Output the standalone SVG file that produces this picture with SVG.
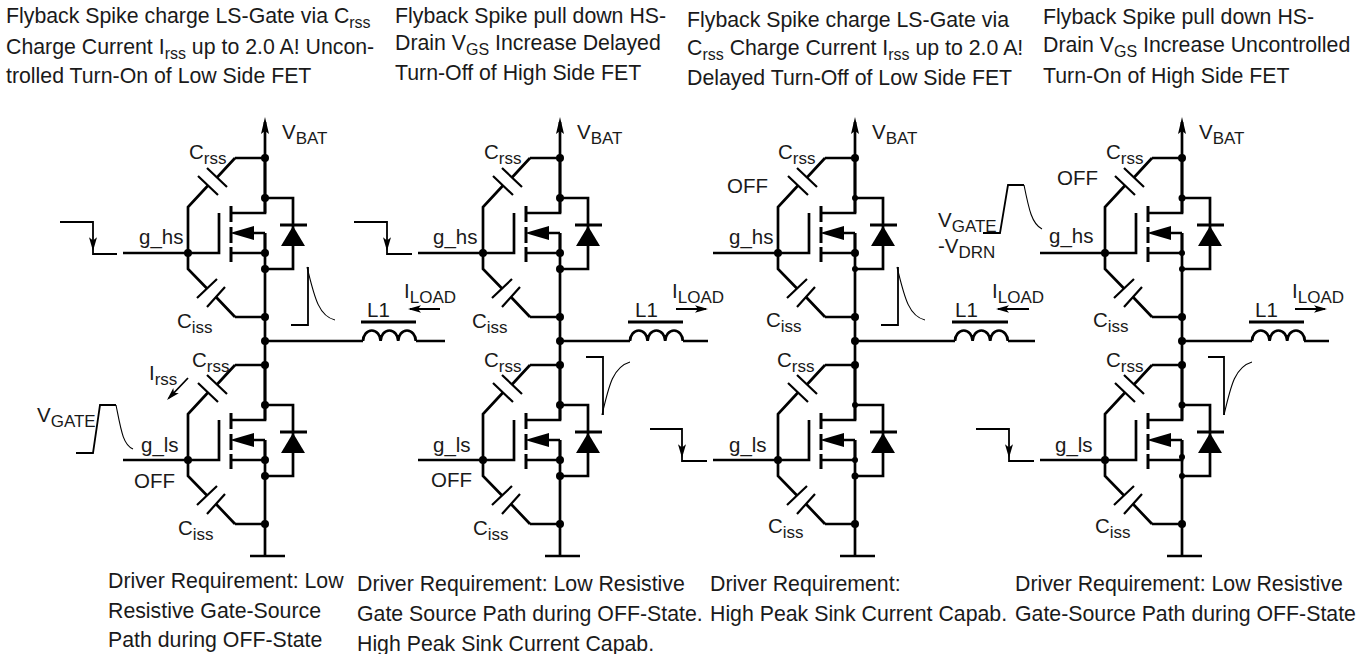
<svg xmlns="http://www.w3.org/2000/svg" width="1364" height="654" viewBox="0 0 1364 654">
<style>
text{font-family:"Liberation Sans",Arial,sans-serif;fill:#1a1a1a}
.t{font-size:21.300px}
.l{font-size:20.500px}
.w{fill:none;stroke:#000;stroke-width:2.7}
.p{fill:none;stroke:#000;stroke-width:2.2}
.c{fill:none;stroke:#000;stroke-width:3}
.s{fill:none;stroke:#000;stroke-width:1.8}
.f{fill:none;stroke:#000;stroke-width:1.1}
.d{fill:#000;stroke:none}
.k{font-size:17px}
.u{font-size:16px}
</style>
<defs>
<g id="cell">
<path class="w" d="M0 0V55H-33M0 75V95H-33M-11 75H0M0 40H28V111H0M-30 0H0M-30 159H0"/>
<path class="w" d="M-30 0L-48 19.500M-57 27.500L-77 49V111L-58 130.500M-49 139L-30 159M-142 95H-46V55"/>
<path class="p" d="M-67 18L-47 37M-58 10L-38 29M-68 140L-48 121M-58 149L-40 129"/>
<path class="c" d="M-34 48V64M-34 69V85M-34 89V104M15 67H42"/>
<polygon class="d" points="-35,75 -11,68 -11,82"/>
<polygon class="d" points="28,68 40,88 16,88"/>
<circle class="d" cx="0" cy="0" r="4"/>
<circle class="d" cx="0" cy="159" r="4"/>
<circle class="d" cx="-77" cy="95" r="4"/>
</g>
<path id="coil" class="w" d="M0 0a8.800 10.500 0 0 1 17.600 0a8.800 10.500 0 0 1 17.600 0a8.800 10.500 0 0 1 17.600 0"/>
<polygon id="ah" class="d" points="0,0 -13,-3.800 -10,0 -13,3.800"/>
</defs>

<g id="connectors">
<path class="w" d="M265 122V213M265 233V420M265 440V556M250 556H285M265 341H363M416 341H445"/>
<path class="w" d="M560 122V213M560 233V420M560 440V556M545 556H580M560 341H630M683 341H708"/>
<path class="w" d="M855 122V213M855 233V420M855 440V556M840 556H875M855 341H955M1008 341H1035"/>
<path class="w" d="M1182 122V213M1182 233V420M1182 440V556M1167 556H1202M1182 341H1252M1304 341H1329"/>
<polygon class="d" points="265,117 269,134 265,131 261,134"/>
<polygon class="d" points="560,117 564,134 560,131 556,134"/>
<polygon class="d" points="855,117 859,134 855,131 851,134"/>
<polygon class="d" points="1182,117 1186,134 1182,131 1178,134"/>
<path class="s" d="M60 222H93V254H117M354 222H387V254H412M650 429H682V461H707M976 429H1009V461H1034"/>
<use href="#ah" transform="translate(93 251) rotate(90) scale(1.050)"/>
<use href="#ah" transform="translate(387 251) rotate(90) scale(1.050)"/>
<use href="#ah" transform="translate(682 458) rotate(90) scale(1.050)"/>
<use href="#ah" transform="translate(1009 458) rotate(90) scale(1.050)"/>
<path class="s" d="M440 309H410M676 309H706M1029 309H998M1295 309H1325M188 378L169 398"/>
<use href="#ah" transform="translate(408 309) rotate(180)"/>
<use href="#ah" transform="translate(708 309)"/>
<use href="#ah" transform="translate(996 309) rotate(180)"/>
<use href="#ah" transform="translate(1327 309)"/>
<use href="#ah" transform="translate(167 400) rotate(134)"/>
</g>

<g id="q-hs-1"><use href="#cell" transform="translate(265 158)"/>
<circle class="d" cx="265" cy="198" r="4"/><circle class="d" cx="265" cy="253" r="4"/><circle class="d" cx="265" cy="269" r="4"/><circle class="d" cx="265" cy="341" r="4"/></g>
<g id="q-ls-1"><use href="#cell" transform="translate(265 365)"/>
<circle class="d" cx="265" cy="405" r="4"/><circle class="d" cx="265" cy="460" r="4"/><circle class="d" cx="265" cy="476" r="4"/></g>
<g id="q-hs-2"><use href="#cell" transform="translate(560 158)"/>
<circle class="d" cx="560" cy="198" r="4"/><circle class="d" cx="560" cy="253" r="4"/><circle class="d" cx="560" cy="269" r="4"/><circle class="d" cx="560" cy="341" r="4"/></g>
<g id="q-ls-2"><use href="#cell" transform="translate(560 365)"/>
<circle class="d" cx="560" cy="405" r="4"/><circle class="d" cx="560" cy="460" r="4"/><circle class="d" cx="560" cy="476" r="4"/></g>
<g id="q-hs-3"><use href="#cell" transform="translate(855 158)"/>
<circle class="d" cx="855" cy="198" r="3"/><circle class="d" cx="855" cy="253" r="4"/><circle class="d" cx="855" cy="269" r="3"/><circle class="d" cx="855" cy="341" r="4"/></g>
<g id="q-ls-3"><use href="#cell" transform="translate(855 365)"/>
<circle class="d" cx="855" cy="405" r="3"/><circle class="d" cx="855" cy="460" r="3"/><circle class="d" cx="855" cy="476" r="3.500"/></g>
<g id="q-hs-4"><use href="#cell" transform="translate(1182 158)"/>
<circle class="d" cx="1182" cy="198" r="3.500"/><circle class="d" cx="1182" cy="253" r="3"/><circle class="d" cx="1182" cy="269" r="3"/><circle class="d" cx="1182" cy="341" r="4"/></g>
<g id="q-ls-4"><use href="#cell" transform="translate(1182 365)"/>
<circle class="d" cx="1182" cy="405" r="3.500"/><circle class="d" cx="1182" cy="457" r="3"/><circle class="d" cx="1182" cy="476" r="3"/></g>

<g id="l1-1"><use href="#coil" x="363" y="341"/><path class="c" d="M361 322H416"/><text class="l" x="367" y="317">L1</text></g>
<g id="l1-2"><use href="#coil" x="630" y="341"/><path class="c" d="M628 322H683"/><text class="l" x="635" y="317">L1</text></g>
<g id="l1-3"><use href="#coil" x="955" y="341"/><path class="c" d="M952 322H1008"/><text class="l" x="955" y="317">L1</text></g>
<g id="l1-4"><use href="#coil" x="1252" y="341"/><path class="c" d="M1249 322H1304"/><text class="l" x="1255" y="317">L1</text></g>

<g id="waves">
<path class="s" d="M291 325H308V267"/><path class="f" d="M307 267C314 295 318 316 335 320"/>
<path class="s" d="M881 325H898V267"/><path class="f" d="M897 267C904 295 908 316 925 320"/>
<path class="s" d="M586 357H603V415"/><path class="f" d="M602 415C609 385 613 367 630 362"/>
<path class="s" d="M1208 357H1224V415"/><path class="f" d="M1224 415C1231 385 1235 367 1252 362"/>
<path class="s" d="M76 453H93L100 405H116"/><path class="f" d="M116 405C121 430 123 445 133 449"/>
<path class="s" d="M983 233H1000L1008 185H1024"/><path class="f" d="M1024 185C1029 210 1032 224 1042 229"/>
</g>

<g id="labels">
<text class="l" x="282" y="139">V<tspan class="k" dy="5">BAT</tspan></text>
<text class="l" x="577" y="139">V<tspan class="k" dy="5">BAT</tspan></text>
<text class="l" x="872" y="139">V<tspan class="k" dy="5">BAT</tspan></text>
<text class="l" x="1199" y="139">V<tspan class="k" dy="5">BAT</tspan></text>

<text class="l" x="189" y="159">C<tspan class="k" dy="5">rss</tspan></text>
<text class="l" x="177" y="328">C<tspan class="k" dy="5">iss</tspan></text>
<text class="l" x="139" y="244">g_hs</text>
<text class="l" x="192" y="367">C<tspan class="k" dy="5">rss</tspan></text>
<text class="l" x="178" y="535">C<tspan class="k" dy="5">iss</tspan></text>
<text class="l" x="141" y="452">g_ls</text>
<text class="l" x="134" y="488">OFF</text>
<text class="l" x="149" y="380">I<tspan class="k" dy="5">rss</tspan></text>
<text class="l" x="37" y="422">V<tspan class="k" dy="5">GATE</tspan></text>
<text class="l" x="404" y="298">I<tspan class="k" dy="5">LOAD</tspan></text>

<text class="l" x="484" y="159">C<tspan class="k" dy="5">rss</tspan></text>
<text class="l" x="472" y="328">C<tspan class="k" dy="5">iss</tspan></text>
<text class="l" x="433" y="244">g_hs</text>
<text class="l" x="484" y="367">C<tspan class="k" dy="5">rss</tspan></text>
<text class="l" x="473" y="535">C<tspan class="k" dy="5">iss</tspan></text>
<text class="l" x="433" y="452">g_ls</text>
<text class="l" x="431" y="487">OFF</text>
<text class="l" x="672" y="298">I<tspan class="k" dy="5">LOAD</tspan></text>

<text class="l" x="778" y="159">C<tspan class="k" dy="5">rss</tspan></text>
<text class="l" x="766" y="327">C<tspan class="k" dy="5">iss</tspan></text>
<text class="l" x="729" y="244">g_hs</text>
<text class="l" x="727" y="193">OFF</text>
<text class="l" x="777" y="367">C<tspan class="k" dy="5">rss</tspan></text>
<text class="l" x="768" y="533">C<tspan class="k" dy="5">iss</tspan></text>
<text class="l" x="729" y="452">g_ls</text>
<text class="l" x="992" y="298">I<tspan class="k" dy="5">LOAD</tspan></text>

<text class="l" x="1106" y="159">C<tspan class="k" dy="5">rss</tspan></text>
<text class="l" x="1093" y="327">C<tspan class="k" dy="5">iss</tspan></text>
<text class="l" x="1049" y="243">g_hs</text>
<text class="l" x="1057" y="185">OFF</text>
<text class="l" x="938" y="227">V<tspan class="k" dy="5">GATE</tspan></text>
<text class="l" x="938" y="253">-V<tspan class="k" dy="5">DRN</tspan></text>
<text class="l" x="1106" y="367">C<tspan class="k" dy="5">rss</tspan></text>
<text class="l" x="1095" y="533">C<tspan class="k" dy="5">iss</tspan></text>
<text class="l" x="1055" y="452">g_ls</text>
<text class="l" x="1292" y="298">I<tspan class="k" dy="5">LOAD</tspan></text>
</g>

<g id="captions">
<text class="t" x="6" y="23">Flyback Spike charge LS-Gate via C<tspan class="u" dy="5">rss</tspan></text>
<text class="t" x="6" y="54">Charge Current I<tspan class="u" dy="5">rss</tspan><tspan dy="-5"> up to 2.0 A! Uncon-</tspan></text>
<text class="t" x="6" y="83">trolled Turn-On of Low Side FET</text>
<text class="t" x="395" y="23">Flyback Spike pull down HS-</text>
<text class="t" x="395" y="50">Drain V<tspan class="u" dy="5">GS</tspan><tspan dy="-5"> Increase Delayed</tspan></text>
<text class="t" x="395" y="80">Turn-Off of High Side FET</text>
<text class="t" x="687" y="27">Flyback Spike charge LS-Gate via</text>
<text class="t" x="687" y="55">C<tspan class="u" dy="5">rss</tspan><tspan dy="-5"> Charge Current I</tspan><tspan class="u" dy="5">rss</tspan><tspan dy="-5"> up to 2.0 A!</tspan></text>
<text class="t" x="687" y="85">Delayed Turn-Off of Low Side FET</text>
<text class="t" x="1043" y="24">Flyback Spike pull down HS-</text>
<text class="t" x="1043" y="52">Drain V<tspan class="u" dy="5">GS</tspan><tspan dy="-5"> Increase Uncontrolled</tspan></text>
<text class="t" x="1043" y="83">Turn-On of High Side FET</text>

<text class="t" x="108" y="588">Driver Requirement: Low</text>
<text class="t" x="108" y="618">Resistive Gate-Source</text>
<text class="t" x="108" y="647">Path during OFF-State</text>
<text class="t" x="357" y="591">Driver Requirement: Low Resistive</text>
<text class="t" x="357" y="621">Gate Source Path during OFF-State.</text>
<text class="t" x="357" y="651">High Peak Sink Current Capab.</text>
<text class="t" x="710" y="591">Driver Requirement:</text>
<text class="t" x="710" y="621">High Peak Sink Current Capab.</text>
<text class="t" x="1015" y="591">Driver Requirement: Low Resistive</text>
<text class="t" x="1015" y="621">Gate-Source Path during OFF-State</text>
</g>
</svg>
